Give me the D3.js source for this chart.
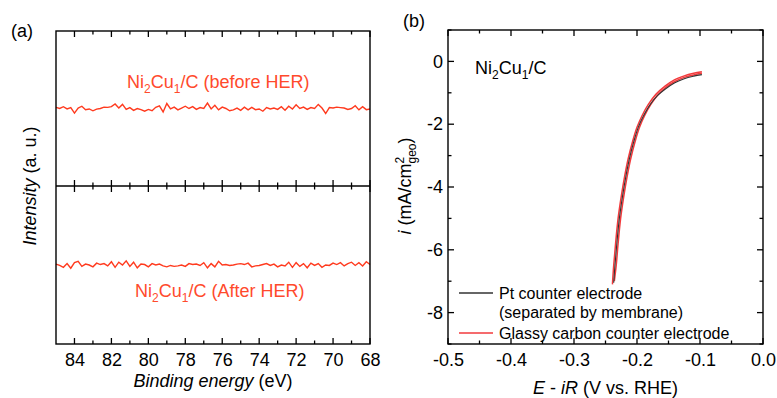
<!DOCTYPE html>
<html>
<head>
<meta charset="utf-8">
<script src="https://cdn.jsdelivr.net/npm/d3@7"></script>
<style>
  body { margin: 0; background: #fff; }
  svg { font-family: "Liberation Sans", Arial, sans-serif; }
</style>
</head>
<body>
<div id="chart"></div>
<script>
// ---- panel (a): XPS Cu region, binding energy 85 -> 68 eV, step 0.2
var energyStart = 85, energyStep = -0.2;
var beforeHER = [
  5.05, 5.00, 5.08, 4.98, 5.04, 4.80, 5.02, 5.10, 4.95, 4.98,
  4.90, 4.97, 5.00, 5.06, 5.05, 5.08, 5.20, 5.02, 5.18, 4.96,
  5.04, 4.92, 5.00, 4.95, 4.88, 4.96, 4.90, 5.05, 5.12, 4.85,
  5.22, 4.98, 5.06, 4.94, 5.02, 5.10, 5.00, 5.08, 4.96, 5.04,
  5.00, 5.24, 4.98, 5.14, 4.94, 5.06, 5.00, 4.90, 4.94, 5.02,
  4.92, 5.06, 4.94, 5.05, 4.95, 4.98, 4.88, 5.04, 4.98, 5.02,
  4.96, 5.08, 4.92, 5.10, 4.98, 5.16, 5.00, 5.06, 4.96, 5.04,
  5.00, 5.18, 5.02, 4.78, 5.04, 5.02, 5.06, 5.04, 5.02, 4.96,
  5.00, 5.12, 4.94, 5.08, 4.95, 4.98
];
var afterHER = [
  5.04, 4.98, 4.90, 5.06, 4.86, 5.10, 5.16, 4.94, 5.04, 5.00,
  4.92, 5.08, 5.02, 5.06, 4.96, 5.14, 4.90, 5.12, 5.00, 5.18,
  4.94, 5.12, 4.88, 5.04, 5.02, 4.92, 5.06, 5.00, 5.04, 4.96,
  4.92, 4.98, 4.94, 4.96, 5.00, 4.94, 5.06, 5.02, 5.04, 4.98,
  5.10, 4.88, 5.06, 4.92, 5.16, 5.00, 5.02, 4.98, 5.00, 5.04,
  5.06, 5.02, 5.08, 4.92, 4.96, 4.98, 5.02, 5.06, 4.98, 5.04,
  4.92, 5.00, 4.96, 5.12, 4.90, 5.10, 4.94, 5.06, 4.88, 5.08,
  4.98, 5.06, 4.90, 5.00, 4.98, 5.08, 5.02, 5.10, 4.96, 5.06,
  5.12, 4.98, 5.10, 4.96, 5.14, 5.02
];
var energyTicks = [84, 82, 80, 78, 76, 74, 72, 70, 68];
var energyMinor = [83, 81, 79, 77, 75, 73, 71, 69];

// ---- panel (b): polarization curves
var ptPotential = [-0.097, -0.110, -0.125, -0.140, -0.155, -0.168, -0.180, -0.190, -0.198, -0.205, -0.212, -0.218, -0.223, -0.228, -0.232, -0.235, -0.237];
var ptCurrent   = [-0.42, -0.47, -0.55, -0.68, -0.88, -1.10, -1.40, -1.75, -2.10, -2.55, -3.10, -3.70, -4.30, -5.00, -5.80, -6.50, -7.05];
var gcPotentialA = [-0.097, -0.110, -0.125, -0.140, -0.155, -0.170, -0.182, -0.192, -0.200, -0.207, -0.214, -0.220, -0.225, -0.230, -0.234, -0.237, -0.239];
var gcCurrentA   = [-0.33, -0.38, -0.46, -0.58, -0.78, -1.05, -1.37, -1.73, -2.10, -2.55, -3.10, -3.70, -4.30, -5.00, -5.80, -6.50, -7.10];
var gcPotentialB = [-0.097, -0.110, -0.125, -0.140, -0.155, -0.166, -0.178, -0.188, -0.196, -0.203, -0.210, -0.216, -0.221, -0.226, -0.230, -0.233, -0.236];
var gcCurrentB   = [-0.38, -0.43, -0.51, -0.64, -0.84, -1.05, -1.37, -1.73, -2.10, -2.55, -3.10, -3.70, -4.30, -5.00, -5.80, -6.50, -7.00];
var potentialTicks = [-0.5, -0.4, -0.3, -0.2, -0.1, 0.0];
var potentialMinor = [-0.45, -0.35, -0.25, -0.15, -0.05];
var currentTicks = [0, -2, -4, -6, -8];
var currentMinor = [1, -1, -3, -5, -7, -9];

var red = "#ff3a1e";
var redB = "#f23a3c";

var svg = d3.select("#chart").append("svg")
  .attr("width", 777).attr("height", 398);

function zip(xs, ys) { return xs.map(function (x, i) { return [x, ys[i]]; }); }

// short tick marks on the frame edges, drawn last so nothing covers them
var tickLayer = [];
function hTicks(scale, values, y0, len) {
  values.forEach(function (d) { tickLayer.push({ x1: scale(d), x2: scale(d), y1: y0, y2: y0 + len }); });
}
function vTicks(scale, values, x0, len) {
  values.forEach(function (d) { tickLayer.push({ x1: x0, x2: x0 + len, y1: scale(d), y2: scale(d) }); });
}

// ================= panel (a)
var ax = { left: 56, right: 370, top: 31, mid: 186, bottom: 344 };
var xA = d3.scaleLinear().domain([85, 68]).range([ax.left, ax.right]);
var yTop = d3.scaleLinear().domain([1.6, 8.4]).range([ax.mid, ax.top]);
var yBot = d3.scaleLinear().domain([1.6, 8.4]).range([ax.bottom, ax.mid]);

var gA = svg.append("g");

var energy = beforeHER.map(function (d, i) { return energyStart + i * energyStep; });

gA.append("path")
  .datum(zip(energy, beforeHER))
  .attr("fill", "none").attr("stroke", red).attr("stroke-width", 1.4)
  .attr("d", d3.line().x(function (d) { return xA(d[0]); }).y(function (d) { return yTop(d[1]); }));
gA.append("path")
  .datum(zip(energy, afterHER))
  .attr("fill", "none").attr("stroke", red).attr("stroke-width", 1.4)
  .attr("d", d3.line().x(function (d) { return xA(d[0]); }).y(function (d) { return yBot(d[1]); }));

// tick marks: top edge (down), divider (both ways), bottom (up)
hTicks(xA, energyTicks, ax.top, 6);
hTicks(xA, energyMinor, ax.top, 3.5);
hTicks(xA, energyTicks, ax.mid - 6, 12);
hTicks(xA, energyMinor, ax.mid - 3.5, 7);
hTicks(xA, energyTicks, ax.bottom, -6);
hTicks(xA, energyMinor, ax.bottom, -3.5);

// tick labels
var xAxisA = gA.append("g").attr("transform", "translate(0," + ax.bottom + ")")
  .call(d3.axisBottom(xA).tickValues(energyTicks).tickSize(0).tickPadding(0).tickFormat(d3.format("d")));
xAxisA.select(".domain").remove();
xAxisA.selectAll("text").attr("y", 22).attr("dy", 0)
  .attr("font-size", 18).attr("font-family", "Liberation Sans, Arial, sans-serif").attr("fill", "#000");

// frames
gA.append("rect").attr("x", ax.left).attr("y", ax.top)
  .attr("width", ax.right - ax.left).attr("height", ax.bottom - ax.top)
  .attr("fill", "none").attr("stroke", "#000").attr("stroke-width", 1.4);
gA.append("line").attr("x1", ax.left).attr("x2", ax.right).attr("y1", ax.mid).attr("y2", ax.mid)
  .attr("stroke", "#000").attr("stroke-width", 1.4);

// labels
function niCuLabel(g, x, y, rest, color) {
  var t = g.append("text").attr("x", x).attr("y", y).attr("font-size", 18).attr("fill", color);
  t.append("tspan").text("Ni");
  t.append("tspan").attr("font-size", 12).attr("dy", 5).text("2");
  t.append("tspan").attr("dy", -5).text("Cu");
  t.append("tspan").attr("font-size", 12).attr("dy", 5).text("1");
  t.append("tspan").attr("dy", -5).text("/C" + rest);
  return t;
}
niCuLabel(gA, 127, 88, " (before HER)", "#ff4a2c");
niCuLabel(gA, 135, 297, " (After HER)", "#ff4a2c");

svg.append("text").attr("x", 11).attr("y", 37).attr("font-size", 18).text("(a)");

var xtA = svg.append("text").attr("x", (ax.left + ax.right) / 2).attr("y", 387)
  .attr("text-anchor", "middle").attr("font-size", 18);
xtA.append("tspan").attr("font-style", "italic").text("Binding energy");
xtA.append("tspan").text(" (eV)");

var ytA = svg.append("text").attr("transform", "translate(36," + ax.mid + ") rotate(-90)")
  .attr("text-anchor", "middle").attr("font-size", 18);
ytA.append("tspan").attr("font-style", "italic").text("Intensity");
ytA.append("tspan").text(" (a. u.)");

// ================= panel (b)
var bx = { left: 448, right: 763, top: 30, bottom: 344 };
var xB = d3.scaleLinear().domain([-0.5, 0]).range([bx.left, bx.right]);
var yB = d3.scaleLinear().domain([-9, 1]).range([bx.bottom, bx.top]);

var gB = svg.append("g");

var curve = d3.line().curve(d3.curveCatmullRom)
  .x(function (d) { return xB(d[0]); }).y(function (d) { return yB(d[1]); });

gB.append("path").datum(zip(gcPotentialA, gcCurrentA))
  .attr("fill", "none").attr("stroke", redB).attr("stroke-width", 1.5).attr("d", curve);
gB.append("path").datum(zip(gcPotentialB, gcCurrentB))
  .attr("fill", "none").attr("stroke", redB).attr("stroke-width", 1.5).attr("d", curve);
gB.append("path").datum(zip(ptPotential, ptCurrent))
  .attr("fill", "none").attr("stroke", "#333").attr("stroke-width", 1.1).attr("d", curve);

hTicks(xB, potentialTicks, bx.bottom, -6);
hTicks(xB, potentialMinor, bx.bottom, -3.5);
hTicks(xB, potentialTicks, bx.top, 6);
hTicks(xB, potentialMinor, bx.top, 3.5);
vTicks(yB, currentTicks, bx.left, 6);
vTicks(yB, currentMinor, bx.left, 3.5);
vTicks(yB, currentTicks, bx.right, -6);
vTicks(yB, currentMinor, bx.right, -3.5);

var xAxisB = gB.append("g").attr("transform", "translate(0," + bx.bottom + ")")
  .call(d3.axisBottom(xB).tickValues(potentialTicks).tickSize(0).tickFormat(d3.format(".1f")));
xAxisB.select(".domain").remove();
xAxisB.selectAll("text").attr("y", 22).attr("dy", 0)
  .attr("font-size", 18).attr("font-family", "Liberation Sans, Arial, sans-serif").attr("fill", "#000")
  .text(function (d) { return d3.format(".1f")(d).replace("\u2212", "-"); });

var yAxisB = gB.append("g").attr("transform", "translate(" + bx.left + ",0)")
  .call(d3.axisLeft(yB).tickValues(currentTicks).tickSize(0).tickPadding(5));
yAxisB.select(".domain").remove();
yAxisB.selectAll("text")
  .attr("font-size", 18).attr("font-family", "Liberation Sans, Arial, sans-serif").attr("fill", "#000")
  .text(function (d) { return String(d); });

gB.append("rect").attr("x", bx.left).attr("y", bx.top)
  .attr("width", bx.right - bx.left).attr("height", bx.bottom - bx.top)
  .attr("fill", "none").attr("stroke", "#000").attr("stroke-width", 1.4);

niCuLabel(gB, 475, 74, "", "#000");

// legend
var legendItems = [
  { lines: ["Pt counter electrode", "(separated by membrane)"], color: "#333", y: 293 },
  { lines: ["Glassy carbon counter electrode"], color: redB, y: 333 }
];
legendItems.forEach(function (item) {
  gB.append("line").attr("x1", 459).attr("x2", 493).attr("y1", item.y).attr("y2", item.y)
    .attr("stroke", item.color).attr("stroke-width", 1.4);
  item.lines.forEach(function (l, i) {
    gB.append("text").attr("x", 499).attr("y", item.y + 6 + i * 19)
      .attr("font-size", 16).text(l);
  });
});

svg.append("text").attr("x", 403).attr("y", 27).attr("font-size", 18).text("(b)");

var xtB = svg.append("text").attr("x", (bx.left + bx.right) / 2).attr("y", 394)
  .attr("text-anchor", "middle").attr("font-size", 18);
xtB.append("tspan").attr("font-style", "italic").text("E");
xtB.append("tspan").text(" - ");
xtB.append("tspan").attr("font-style", "italic").text("iR");
xtB.append("tspan").text(" (V vs. RHE)");

var ytB = svg.append("text").attr("transform", "translate(411,186) rotate(-90)")
  .attr("text-anchor", "middle").attr("font-size", 18);
ytB.append("tspan").attr("font-style", "italic").text("i");
ytB.append("tspan").text(" (mA/cm");
ytB.append("tspan").attr("font-size", 12).attr("dy", -7).text("2");
ytB.append("tspan").attr("font-size", 12).attr("dx", -6.7).attr("dy", 12).text("geo");
ytB.append("tspan").attr("dy", -5).text(")");

// all frame ticks on top
svg.append("g").attr("class", "frame-ticks")
  .selectAll("line").data(tickLayer).enter().append("line")
  .attr("x1", function (d) { return d.x1; }).attr("x2", function (d) { return d.x2; })
  .attr("y1", function (d) { return d.y1; }).attr("y2", function (d) { return d.y2; })
  .attr("stroke", "#000").attr("stroke-width", 1.3);
</script>
</body>
</html>
